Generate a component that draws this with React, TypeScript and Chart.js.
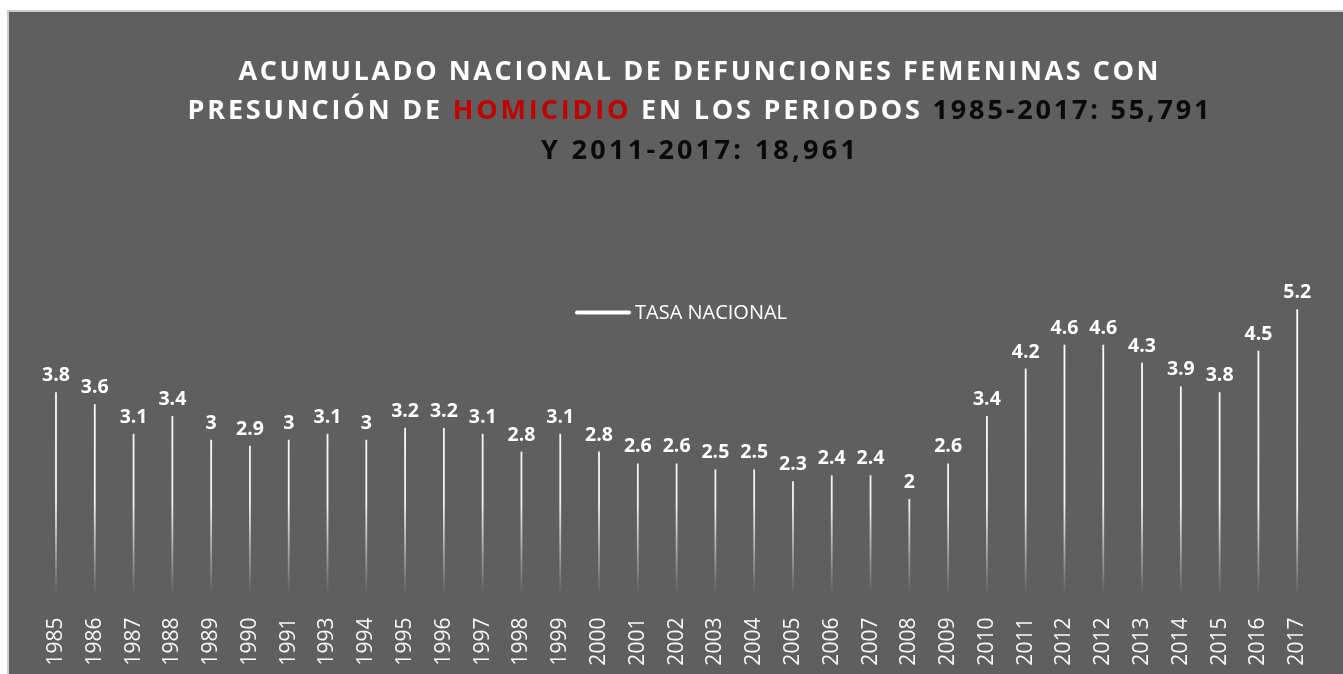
import React, { useEffect, useRef } from "react";
import { Chart, registerables } from "chart.js";

Chart.register(...registerables);

// ---------- data ----------
const years = [
  "1985", "1986", "1987", "1988", "1989", "1990", "1991", "1993", "1994", "1995", "1996",
  "1997", "1998", "1999", "2000", "2001", "2002", "2003", "2004", "2005", "2006", "2007",
  "2008", "2009", "2010", "2011", "2012", "2012", "2013", "2014", "2015", "2016", "2017",
];
const tasaNacional = [
  3.8, 3.6, 3.1, 3.4, 3, 2.9, 3, 3.1, 3, 3.2, 3.2,
  3.1, 2.8, 3.1, 2.8, 2.6, 2.6, 2.5, 2.5, 2.3, 2.4, 2.4,
  2, 2.6, 3.4, 4.2, 4.6, 4.6, 4.3, 3.9, 3.8, 4.5, 5.2,
];
const seriesLabel = "TASA NACIONAL";

const titleLine1 = [{ text: "ACUMULADO NACIONAL DE DEFUNCIONES FEMENINAS CON", color: "#ffffff" }];
const titleLine2 = [
  { text: "PRESUNCIÓN DE ", color: "#ffffff" },
  { text: "HOMICIDIO", color: "#c00000" },
  { text: " EN LOS PERIODOS ", color: "#ffffff" },
  { text: "1985-2017: 55,791", color: "#0a0a0a" },
];
const titleLine3 = [{ text: "Y 2011-2017: 18,961", color: "#0a0a0a" }];

// ---------- styling ----------
const BG = "#5f5f5f";
const W = 1336;
const H = 664;

const titleLines = [
  { segs: titleLine1, width: 920, baseline: 69.5 },
  { segs: titleLine2, width: 1022, baseline: 109 },
  { segs: titleLine3, width: 315, baseline: 149 },
];

const backgroundPlugin = {
  id: "bgBorder",
  beforeDraw(chart: any) {
    const ctx = chart.ctx;
    ctx.save();
    ctx.fillStyle = BG;
    ctx.fillRect(0, 0, chart.width, chart.height);
    ctx.strokeStyle = "#cbcbcb";
    ctx.lineWidth = 2;
    ctx.strokeRect(1, 1, chart.width + 10, chart.height + 10);
    ctx.restore();
  },
};

const titlePlugin = {
  id: "richTitle",
  afterDraw(chart: any) {
    const ctx = chart.ctx;
    ctx.save();
    ctx.font = "bold 27px 'Open Sans'";
    ctx.textBaseline = "alphabetic";
    ctx.textAlign = "left";
    const cx = 691.5;
    for (const line of titleLines) {
      const chars: { ch: string; color: string; w: number }[] = [];
      for (const s of line.segs) {
        for (const ch of Array.from(s.text)) {
          chars.push({ ch, color: s.color, w: ctx.measureText(ch).width });
        }
      }
      const raw = chars.reduce((a, c) => a + c.w, 0);
      const spacing = (line.width - raw) / (chars.length - 1);
      let x = cx - line.width / 2;
      for (const c of chars) {
        ctx.fillStyle = c.color;
        ctx.fillText(c.ch, x, line.baseline);
        x += c.w + spacing;
      }
    }
    ctx.restore();
  },
};

const legendPlugin = {
  id: "customLegend",
  afterDraw(chart: any) {
    const ctx = chart.ctx;
    const ds = chart.data.datasets[0];
    const y = 302.5;
    ctx.save();
    ctx.strokeStyle = ds.borderColor;
    ctx.lineWidth = 4;
    ctx.lineCap = "round";
    ctx.beginPath();
    ctx.moveTo(570, y);
    ctx.lineTo(622, y);
    ctx.stroke();
    ctx.fillStyle = "#ffffff";
    ctx.font = "20px 'Open Sans'";
    ctx.textAlign = "left";
    ctx.textBaseline = "middle";
    ctx.fillText(ds.label, 628, y + 1);
    ctx.restore();
  },
};

const dropLinePlugin = {
  id: "dropLines",
  beforeDatasetsDraw(chart: any) {
    const ctx = chart.ctx;
    const area = chart.chartArea;
    const meta = chart.getDatasetMeta(0);
    const grad = ctx.createLinearGradient(0, area.top, 0, area.bottom);
    grad.addColorStop(0, "rgba(255,255,255,1)");
    grad.addColorStop(0.65, "rgba(255,255,255,0.92)");
    grad.addColorStop(0.93, "rgba(255,255,255,0)");
    grad.addColorStop(1, "rgba(255,255,255,0)");
    ctx.save();
    ctx.strokeStyle = grad;
    ctx.lineWidth = 1.8;
    meta.data.forEach((pt: any) => {
      ctx.beginPath();
      ctx.moveTo(pt.x, pt.y);
      ctx.lineTo(pt.x, area.bottom);
      ctx.stroke();
    });
    ctx.restore();
  },
};

const valueLabelPlugin = {
  id: "valueLabels",
  afterDatasetsDraw(chart: any) {
    const ctx = chart.ctx;
    const meta = chart.getDatasetMeta(0);
    const data = chart.data.datasets[0].data;
    ctx.save();
    ctx.font = "bold 19.5px 'Open Sans'";
    ctx.fillStyle = "#ffffff";
    ctx.textAlign = "center";
    ctx.textBaseline = "alphabetic";
    meta.data.forEach((pt: any, i: number) => {
      ctx.fillText(String(data[i]), pt.x, pt.y - 11);
    });
    ctx.restore();
  },
};

export default function App() {
  const canvasRef = useRef<HTMLCanvasElement | null>(null);

  useEffect(() => {
    if (!canvasRef.current) return;
    const chart = new Chart(canvasRef.current, {
      type: "line",
      data: {
        labels: years,
        datasets: [
          {
            label: seriesLabel,
            data: tasaNacional,
            borderColor: "#ffffff",
            backgroundColor: "#ffffff",
            borderWidth: 2,
            showLine: false,
            pointRadius: 0,
            pointHoverRadius: 0,
          },
        ],
      },
      options: {
        responsive: false,
        animation: false,
        devicePixelRatio: 1,
        layout: { padding: { top: 281.5, left: 29.6, right: 26.4, bottom: 0 } },
        plugins: {
          title: { display: false },
          tooltip: { enabled: false },
          legend: { display: false },
        },
        scales: {
          x: {
            offset: true,
            grid: { display: false },
            border: { display: false },
            ticks: {
              color: "#f7f7f7",
              font: { family: "'Open Sans'", size: 21 },
              minRotation: 90,
              maxRotation: 90,
              autoSkip: false,
              padding: -8,
            },
            afterFit: (scale: any) => {
              scale.height = 56.4;
            },
          },
          y: {
            display: false,
            min: 0,
            max: 5.5,
          },
        },
      },
      plugins: [backgroundPlugin, dropLinePlugin, valueLabelPlugin, titlePlugin, legendPlugin],
    });
    return () => chart.destroy();
  }, []);

  return (
    <div style={{ position: "absolute", left: 7, top: 10, width: W, height: H }}>
      <canvas ref={canvasRef} width={W} height={H} style={{ display: "block" }} />
    </div>
  );
}
